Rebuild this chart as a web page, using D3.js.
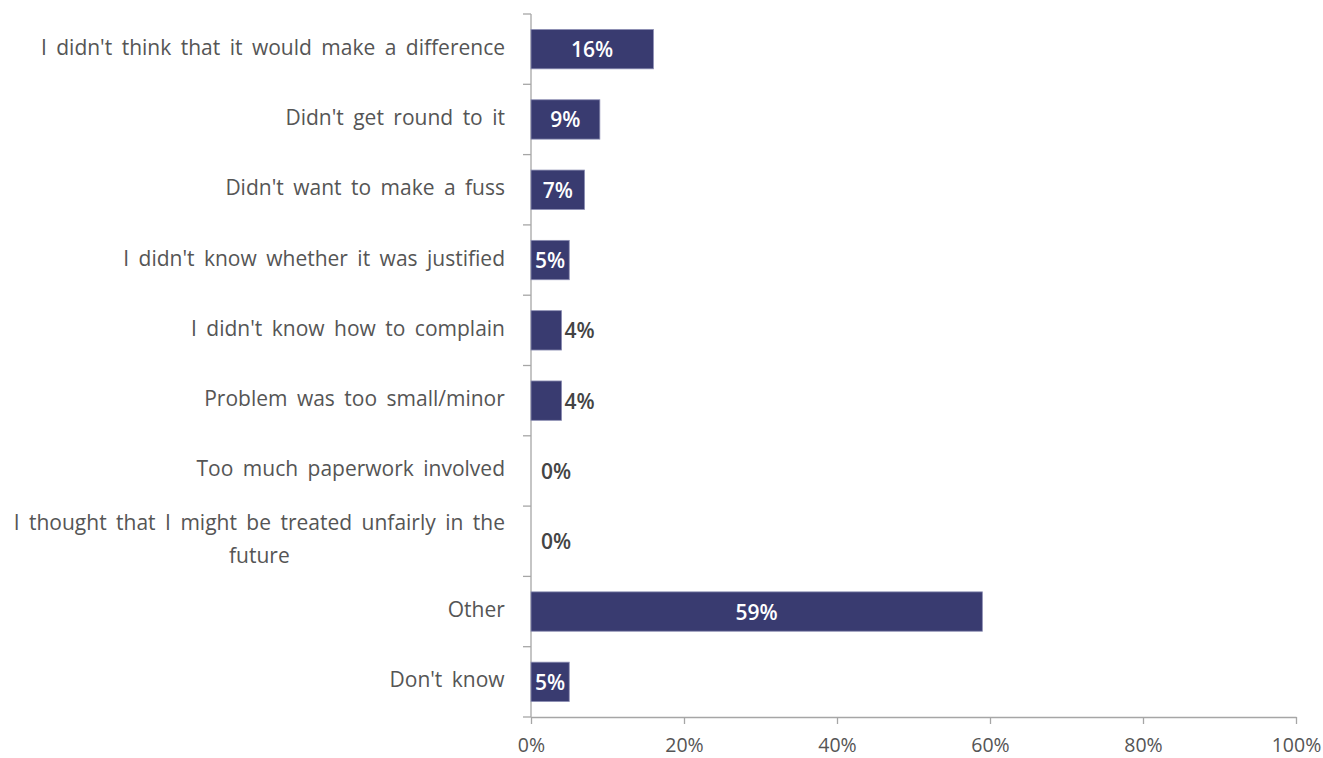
<!DOCTYPE html>
<html><head><meta charset="utf-8">
<script src="https://cdn.jsdelivr.net/npm/d3@7"></script>
<style>body{margin:0;background:#fff}svg{display:block}</style>
</head><body><svg id="c" width="1323" height="758"></svg>
<script>
const categories = [
  "I didn't think that it would make a difference",
  "Didn't get round to it",
  "Didn't want to make a fuss",
  "I didn't know whether it was justified",
  "I didn't know how to complain",
  "Problem was too small/minor",
  "Too much paperwork involved",
  "I thought that I might be treated unfairly in the future",
  "Other",
  "Don't know"
];
const values = [16, 9, 7, 5, 4, 4, 0, 0, 59, 5];
const xTicks = [0, 20, 40, 60, 80, 100];

const svg = d3.select("#c");
const m = {left: 531, right: 1296, top: 14, bottom: 717};
const x = d3.scaleLinear().domain([0, 100]).range([m.left, m.right]);
const y = d3.scaleBand().domain(categories).range([m.top, m.bottom]).paddingInner(0.44).paddingOuter(0.22);
const yb = d3.scaleBand().domain(categories).range([m.top, m.bottom]);
const font = "'Open Sans', 'Noto Sans', sans-serif";
const axisColor = "#a6a6a6";
const catSize = 21;

// x axis
const xa = svg.append("g").attr("transform", `translate(0,${m.bottom})`)
  .call(d3.axisBottom(x).tickValues(xTicks).tickFormat(d => d + "%").tickSize(7).tickSizeOuter(0));
xa.select(".domain").attr("stroke", axisColor).attr("stroke-width", 1.3);
xa.selectAll(".tick line").attr("stroke", axisColor).attr("stroke-width", 1.3);
xa.selectAll(".tick text").attr("fill", "#555").attr("font-family", font).attr("font-size", 19.5)
  .attr("dy", 0).attr("y", 35);

// y axis line with ticks at band boundaries
svg.append("line").attr("x1", m.left).attr("x2", m.left).attr("y1", m.top).attr("y2", m.bottom)
  .attr("stroke", axisColor).attr("stroke-width", 1.3);
const bounds = categories.map(c => yb(c)).concat([m.bottom]);
svg.selectAll(".ytick").data(bounds).join("line").attr("class", "ytick")
  .attr("x1", m.left - 8).attr("x2", m.left).attr("y1", d => d).attr("y2", d => d)
  .attr("stroke", axisColor).attr("stroke-width", 1.3);

// category labels
const labelRight = 505, maxW = 500, lineH = 33, wordSp = 4;
categories.forEach(c => {
  const cy = yb(c) + yb.bandwidth() / 2 - 2.5;
  const t = svg.append("text").attr("font-family", font).attr("font-size", catSize)
    .attr("word-spacing", wordSp).attr("fill", "#555");
  const words = c.split(" ");
  let lines = [], cur = "";
  const probe = svg.append("text").attr("font-family", font).attr("font-size", catSize).attr("word-spacing", wordSp);
  const measure = s => { probe.text(s); return probe.node().getBBox().width; };
  words.forEach(w => {
    const test = cur ? cur + " " + w : w;
    if (measure(test) > maxW && cur) { lines.push(cur); cur = w; }
    else cur = test;
  });
  lines.push(cur);
  const widths = lines.map(measure);
  probe.remove();
  const blockW = d3.max(widths);
  const cx = labelRight - blockW / 2;
  const y0 = cy - (lines.length - 1) * lineH / 2;
  lines.forEach((l, i) => {
    t.append("tspan").attr("x", cx).attr("y", y0 + i * lineH).attr("text-anchor", "middle")
      .attr("dominant-baseline", "central").text(l);
  });
});

// bars
svg.selectAll(".bar").data(values).join("rect").attr("class", "bar")
  .attr("x", x(0)).attr("y", (d, i) => y(categories[i]))
  .attr("width", d => x(d) - x(0)).attr("height", y.bandwidth())
  .attr("fill", "#393b70").attr("stroke", d => d > 0 ? "#8c8eb3" : "none").attr("stroke-width", 0.8);

// value labels
svg.selectAll(".val").data(values).join("text").attr("class", "val")
  .attr("font-family", font).attr("font-size", 21).attr("font-weight", 600)
  .attr("dominant-baseline", "central")
  .each(function(d, i) {
    const cy = y(categories[i]) + y.bandwidth() / 2;
    const inside = d >= 5;
    const s = d3.select(this).text(d + "%").attr("y", cy);
    if (inside) s.attr("x", (x(0) + x(d)) / 2).attr("text-anchor", "middle").attr("fill", "#fff");
    else s.attr("x", Math.max(x(d) + 3, x(0) + 10)).attr("text-anchor", "start").attr("fill", "#444");
  });
</script></body></html>
